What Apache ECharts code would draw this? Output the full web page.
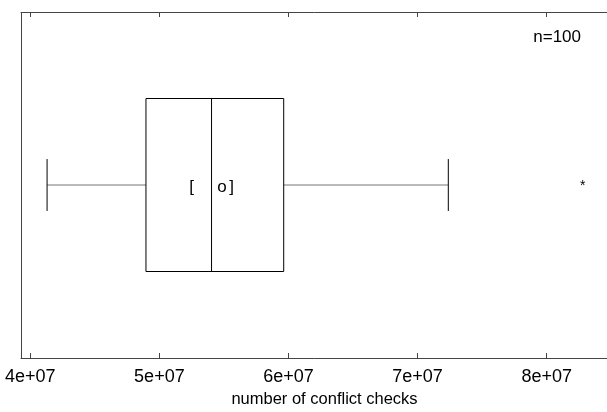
<!DOCTYPE html>
<html>
<head>
<meta charset="utf-8">
<script src="https://cdn.jsdelivr.net/npm/echarts@6/dist/echarts.min.js"></script>
<style>
  html, body { margin: 0; padding: 0; background: #fff; overflow: hidden; }
  #main { width: 607px; height: 412px; }
</style>
</head>
<body>
<div id="main"></div>
<script>
// five-number summary: low whisker, Q1, median, Q3, high whisker
var boxStats = [4.13e7, 4.896e7, 5.404e7, 5.963e7, 7.238e7];
// marks inside the box: "[", "o", "]"
var meanMarks = [5.25e7, 5.485e7, 5.56e7];
var outliers = [8.28e7];
var xTicks = [4e7, 5e7, 6e7, 7e7, 8e7];
var sampleCount = 100;

var FONT = 'Liberation Sans';
var lineColor = '#444';

function expLabel(v) {
    var parts = v.toExponential().split('e');
    var sign = parts[1][0];
    var num = parts[1].slice(1);
    if (num.length < 2) num = '0' + num;
    return parts[0] + 'e' + sign + num;
}

var chart = echarts.init(document.getElementById('main'));

var xBase = {
    type: 'value',
    min: 3.928e7,
    max: 8.63e7,
    splitLine: { show: false },
    axisLine: { show: true, lineStyle: { color: lineColor, width: 1 } },
    axisTick: { show: true, inside: true, length: 5, customValues: xTicks, lineStyle: { color: lineColor } }
};

var option = {
    animation: false,
    backgroundColor: '#fff',
    grid: { left: 21, right: -21, top: 12, bottom: 54, outerBoundsMode: 'none' },
    xAxis: [Object.assign({}, xBase, {
        position: 'bottom',
        axisLabel: {
            customValues: xTicks,
            margin: 10,
            color: '#000',
            fontFamily: FONT,
            fontSize: 18,
            formatter: expLabel
        },
        name: 'number of conflict checks',
        nameLocation: 'middle',
        nameGap: 32,
        nameTextStyle: { color: '#000', fontFamily: FONT, fontSize: 16.5 }
    }), Object.assign({}, xBase, {
        position: 'top',
        axisLabel: { show: false }
    })],
    yAxis: { type: 'value', show: false, min: 0, max: 1 },
    graphic: [{
        type: 'text',
        right: 26,
        top: 29,
        style: { text: 'n=' + sampleCount, fill: '#000', font: '17px "' + FONT + '"' }
    }],
    series: [{
        type: 'custom',
        clip: false,
        data: [boxStats.concat(meanMarks)],
        renderItem: function (params, api) {
            var cs = params.coordSys;
            var p = function (v, y) { return api.coord([v, y]); };
            var lo = p(api.value(0), 0.5), q1 = p(api.value(1), 0.75), md = p(api.value(2), 0.75),
                q3 = p(api.value(3), 0.25), hi = p(api.value(4), 0.5);
            var capTop = p(0, 0.575)[1], capBot = p(0, 0.425)[1];
            var boxBot = p(0, 0.25)[1];
            var cy = lo[1];
            var black = { stroke: '#000', lineWidth: 1, fill: null };
            var grey = { stroke: '#777', lineWidth: 1.2, fill: null };
            var children = [
                // left frame edge of the plot panel
                { type: 'line', shape: { x1: cs.x + 0.5, y1: cs.y, x2: cs.x + 0.5, y2: cs.y + cs.height }, style: { stroke: lineColor, lineWidth: 1 } },
                { type: 'line', shape: { x1: lo[0], y1: cy, x2: q1[0], y2: cy }, style: grey },
                { type: 'line', shape: { x1: q3[0], y1: cy, x2: hi[0], y2: cy }, style: grey },
                { type: 'line', shape: { x1: lo[0], y1: capTop, x2: lo[0], y2: capBot }, style: black },
                { type: 'line', shape: { x1: hi[0], y1: capTop, x2: hi[0], y2: capBot }, style: black },
                { type: 'rect', shape: { x: q1[0], y: q1[1], width: q3[0] - q1[0], height: boxBot - q1[1] }, style: black },
                { type: 'line', shape: { x1: md[0], y1: q1[1], x2: md[0], y2: boxBot }, style: black }
            ];
            var glyphs = ['[', 'o', ']'];
            for (var i = 0; i < 3; i++) {
                children.push({
                    type: 'text',
                    style: {
                        x: p(api.value(5 + i), 0.5)[0], y: cy + 2,
                        text: glyphs[i], fill: '#000',
                        font: '17px "' + FONT + '"',
                        align: 'center', verticalAlign: 'middle'
                    }
                });
            }
            return { type: 'group', children: children };
        }
    }, {
        type: 'custom',
        data: outliers.map(function (v) { return [v]; }),
        renderItem: function (params, api) {
            var pt = api.coord([api.value(0), 0.5]);
            return {
                type: 'text',
                style: {
                    x: pt[0], y: pt[1] + 1,
                    text: '*', fill: '#000',
                    font: '14px "' + FONT + '"',
                    align: 'center', verticalAlign: 'middle'
                }
            };
        }
    }]
};

chart.setOption(option);
</script>
</body>
</html>
